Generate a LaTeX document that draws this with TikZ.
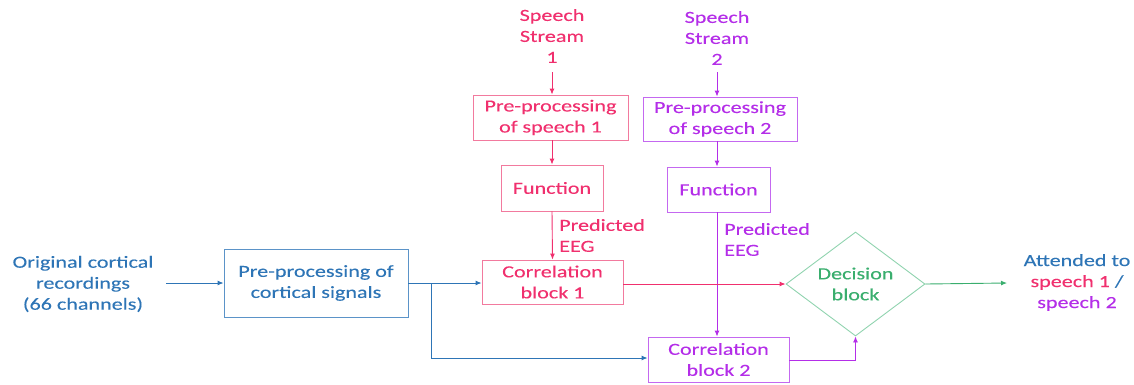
\documentclass[tikz,border=0pt]{standalone}
\usepackage{fontspec}
\setmainfont{Carlito}[FakeStretch=1.3,FakeBold=0.15]
\usetikzlibrary{shapes.geometric,arrows.meta}
\definecolor{cblue}{HTML}{2E75B6}
\definecolor{cbluebox}{HTML}{5B93C8}
\definecolor{cpink}{HTML}{F0306E}
\definecolor{cpinkbox}{HTML}{F27A9E}
\definecolor{cpurple}{HTML}{B42EE8}
\definecolor{cpurplebox}{HTML}{C468F0}
\definecolor{cgreen}{HTML}{3AAE6E}
\definecolor{cgreenbox}{HTML}{8FD3AE}
\tikzset{
  txt/.style={font=\fontsize{17}{21}\selectfont, align=center, inner sep=0pt},
  box/.style={txt, draw, line width=0.9pt, minimum height=0pt},
  arr/.style={line width=0.9pt, -{Latex[length=6pt,width=5pt]}},
  ln/.style={line width=0.9pt},
}
\begin{document}
\begin{tikzpicture}[x=1pt,y=-1pt]
\useasboundingbox (0,0) rectangle (1134,384);
% left
\node[txt, text=cblue] (orig) at (83,284) {Original cortical\\recordings\\(66 channels)};
\node[box, draw=cbluebox, text=cblue, minimum width=184pt, minimum height=68pt] (pre) at (316,283) {Pre-processing of\\cortical signals};
\coordinate (origR) at (166,283);
\draw[arr, cblue] (origR) -- (pre.west);
% speech 1
\node[txt, text=cpink] (s1) at (552,36) {Speech\\Stream\\1};
\node[box, draw=cpinkbox, text=cpink, minimum width=155pt, minimum height=45pt] (pp1) at (550.5,117.5) {Pre-processing\\of speech 1};
\node[box, draw=cpinkbox, text=cpink, minimum width=102pt, minimum height=46pt] (f1) at (552,188) {Function};
\node[box, draw=cpinkbox, text=cpink, minimum width=141pt, minimum height=44pt] (c1) at (552.5,282) {Correlation\\block 1};
\coordinate (s1b) at (552,72);
\draw[arr, cpink] (s1b) -- (s1b |- pp1.north);
\draw[arr, cpink] (pp1.south -| f1.north) -- (f1.north);
\draw[arr, cpink] (f1.south) -- (c1.north);
\node[txt, text=cpink, align=left, anchor=west] (pe1) at (559,235.5) {Predicted\\EEG};
% speech 2
\node[txt, text=cpurple] (s2) at (717,38) {Speech\\Stream\\2};
\node[box, draw=cpurplebox, text=cpurple, minimum width=154pt, minimum height=44pt] (pp2) at (720,119) {Pre-processing\\of speech 2};
\node[box, draw=cpurplebox, text=cpurple, minimum width=103pt, minimum height=45pt] (f2) at (718.5,189.5) {Function};
\node[box, draw=cpurplebox, text=cpurple, minimum width=141pt, minimum height=45pt] (c2) at (718.5,359.5) {Correlation\\block 2};
\coordinate (s2b) at (717,72);
\draw[arr, cpurple] (s2b) -- (s2b |- pp2.north);
\draw[arr, cpurple] (717,0 |- pp2.south) -- (717,0 |- f2.north);
\draw[arr, cpurple] (717,0 |- f2.south) -- (717,0 |- c2.north);
\node[txt, text=cpurple, align=left, anchor=west] (pe2) at (724,239.5) {Predicted\\EEG};
% decision
\node[diamond, draw=cgreenbox, line width=0.9pt, text=cgreen, txt, minimum width=139pt, minimum height=104pt, aspect=1.34] (dec) at (855.5,284) {Decision\\block};
% blue connectors
\coordinate (jn) at (431,283);
\coordinate (jd) at (431,358);
\draw[ln, cblue] (pre.east) -- (jn);
\draw[arr, cblue] (jn) -- (c1.west |- jn);
\draw[arr, cblue] (jn) -- (jd) -- (c2.west |- jd);
% to decision
\draw[arr, cpink] (c1.east |- dec.west) -- (dec.west);
\coordinate (c2r) at (789,360);
\draw[arr, cpurple] (c2r) -| (dec.south);
% output
\node[txt] (out) at (1077,282.5) {\textcolor{cblue}{Attended to}\\\textcolor{cpink}{speech 1} \textcolor{cblue}{/}\\\textcolor{cpurple}{speech 2}};
\coordinate (outL) at (1007,283);
\draw[arr, cgreen] (dec.east) -- (outL);
\end{tikzpicture}
\end{document}
